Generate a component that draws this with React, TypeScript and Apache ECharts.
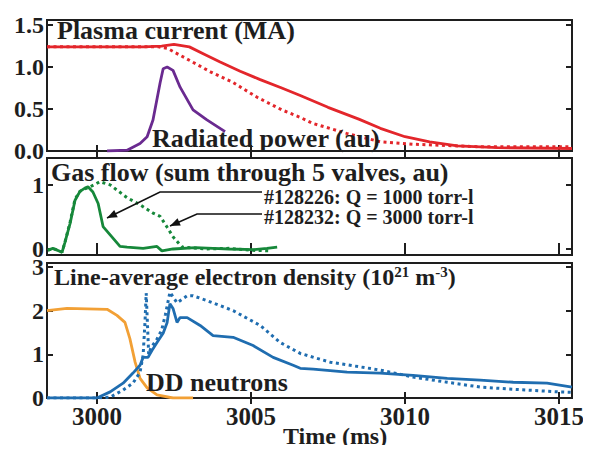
import React, { useEffect, useRef } from "react";
import * as echarts from "echarts";

// ---------- data (time in ms, values as plotted) ----------
const currentSolid: [number, number][] = [
  [2998.38, 1.24], [3001.5, 1.24], [3002.1, 1.25], [3002.5, 1.27], [3003.0, 1.24],
  [3003.5, 1.15], [3004.0, 1.06], [3004.65, 0.95], [3005.3, 0.85], [3006.0, 0.75],
  [3006.6, 0.66], [3007.5, 0.52], [3008.5, 0.38], [3009.2, 0.27], [3010.0, 0.17],
  [3010.8, 0.11], [3011.7, 0.06], [3013.0, 0.04], [3015.42, 0.03],
];
const currentDotted: [number, number][] = [
  [2998.38, 1.24], [3002.0, 1.24], [3002.3, 1.22], [3003.0, 1.08], [3003.7, 0.94],
  [3004.4, 0.82], [3005.2, 0.64], [3006.0, 0.49], [3006.6, 0.4], [3007.0, 0.33],
  [3008.1, 0.21], [3009.2, 0.11], [3010.3, 0.08], [3012.4, 0.05], [3015.42, 0.05],
];
const radiatedPower: [number, number][] = [
  [3000.33, 0.0], [3000.98, 0.01], [3001.4, 0.09], [3001.63, 0.17], [3001.82, 0.37],
  [3002.05, 0.81], [3002.15, 0.98], [3002.28, 1.0], [3002.47, 0.96], [3002.7, 0.76],
  [3003.12, 0.49], [3003.57, 0.37], [3004.16, 0.23],
];
const gasSolid: [number, number][] = [
  [2998.41, -0.02], [2998.57, 0.01], [2998.87, -0.05], [2998.96, 0.1], [2999.13, 0.4],
  [2999.29, 0.76], [2999.45, 0.9], [2999.61, 0.95], [2999.71, 0.97], [2999.87, 0.89],
  [3000.04, 0.71], [3000.2, 0.35], [3000.43, 0.22], [3000.75, 0.04], [3000.98, 0.03],
  [3001.5, 0.01], [3001.95, 0.04], [3002.11, -0.03], [3002.47, 0.0], [3003.2, 0.02],
  [3003.77, 0.01], [3004.3, 0.0], [3005.07, -0.01], [3005.52, 0.01], [3005.85, 0.03],
];
const gasDotted: [number, number][] = [
  [2998.41, -0.02], [2998.57, 0.01], [2998.87, -0.05], [2998.96, 0.1], [2999.13, 0.42],
  [2999.29, 0.78], [2999.45, 0.9], [2999.61, 0.94], [2999.78, 0.97], [3000.1, 1.05],
  [3000.43, 1.0], [3000.98, 0.8], [3001.4, 0.69], [3001.82, 0.56], [3002.05, 0.51],
  [3002.28, 0.34], [3002.47, 0.19], [3002.76, 0.03], [3003.5, 0.0], [3004.3, 0.01],
  [3005.0, -0.02], [3005.62, -0.03],
];
const neutrons: [number, number][] = [
  [2998.38, 2.0], [2999.03, 2.05], [3000.33, 2.03], [3000.65, 1.89], [3000.91, 1.73],
  [3001.07, 1.36], [3001.24, 0.82], [3001.4, 0.45], [3001.63, 0.23], [3001.95, 0.07],
  [3002.47, 0.0], [3003.12, 0.0],
];
const densitySolid: [number, number][] = [
  [2998.38, 0.0], [3000.0, 0.0], [3000.43, 0.14], [3000.85, 0.34], [3001.17, 0.57],
  [3001.4, 0.75], [3001.5, 0.93], [3001.66, 0.93], [3001.79, 1.09], [3001.95, 1.27],
  [3002.15, 1.48], [3002.28, 1.73], [3002.37, 2.16], [3002.47, 2.05], [3002.6, 1.73],
  [3002.7, 1.84], [3002.93, 1.84], [3003.35, 1.66], [3003.77, 1.43], [3004.42, 1.39],
  [3005.07, 1.2], [3005.72, 0.93], [3006.37, 0.75], [3006.6, 0.68], [3007.02, 0.66],
  [3008.12, 0.59], [3009.19, 0.57], [3010.26, 0.52], [3011.37, 0.45], [3012.44, 0.41],
  [3013.51, 0.36], [3014.61, 0.34], [3015.42, 0.25],
];
const densityDotted: [number, number][] = [
  [2998.38, 0.0], [3000.0, 0.0], [3000.43, 0.02], [3000.85, 0.18], [3001.17, 0.34],
  [3001.4, 0.59], [3001.5, 0.98], [3001.56, 1.73], [3001.6, 2.4], [3001.64, 1.7],
  [3001.68, 1.0], [3001.75, 1.14], [3001.95, 1.35], [3002.1, 1.55], [3002.22, 1.9],
  [3002.37, 2.42], [3002.6, 2.18], [3002.93, 2.34], [3003.12, 2.34], [3003.57, 2.23],
  [3004.42, 2.0], [3005.3, 1.66], [3005.95, 1.27], [3006.6, 1.02], [3007.57, 0.82],
  [3009.19, 0.64], [3010.26, 0.48], [3011.37, 0.36], [3012.44, 0.25], [3013.51, 0.2],
  [3014.97, 0.14], [3015.42, 0.13],
];

const xTicks = [3000, 3005, 3010, 3015];
const yTicksTop = [0, 0.5, 1.0, 1.5];
const yTicksMid = [0, 1];
const yTicksBot = [0, 1, 2, 3];

const X_MIN = 2998.38;
const X_MAX = 3015.42;

const FONT = "'Liberation Serif', 'DejaVu Serif', serif";
const RED = "#e3262b";
const PURPLE = "#6a2a90";
const GREEN = "#16883a";
const ORANGE = "#f2a035";
const BLUE = "#1f6db0";
const INK = "#1e1e1e";

function arrowHead(fx: number, fy: number, tx: number, ty: number, len = 10, half = 4): number[][] {
  const dx = tx - fx;
  const dy = ty - fy;
  const d = Math.sqrt(dx * dx + dy * dy);
  const ux = dx / d;
  const uy = dy / d;
  const bx = tx - ux * len;
  const by = ty - uy * len;
  return [
    [tx, ty],
    [bx - uy * half, by + ux * half],
    [bx + uy * half, by - ux * half],
  ];
}

export default function App() {
  const ref = useRef<HTMLDivElement>(null);

  useEffect(() => {
    if (!ref.current) return;
    const chart = echarts.init(ref.current, null, { renderer: "svg" });

    const grids = [
      { left: 47, right: 19, top: 20, height: 131 },
      { left: 47, right: 19, top: 158, height: 97 },
      { left: 47, right: 19, top: 263, height: 135 },
    ];
    const yRanges = [
      { min: 0, max: 1.56, ticks: yTicksTop, fmt: (v: number) => v.toFixed(1) },
      { min: -0.094, max: 1.42, ticks: yTicksMid, fmt: (v: number) => String(v) },
      { min: 0, max: 3.09, ticks: yTicksBot, fmt: (v: number) => String(v) },
    ];

    const tickStyle = { show: true, inside: true, length: 6, lineStyle: { color: INK, width: 2 } };
    const labelFont = { fontFamily: FONT, fontWeight: "bold" as const, fontSize: 25, color: INK };

    const xAxis: any[] = [];
    const yAxis: any[] = [];
    grids.forEach((_, i) => {
      xAxis.push({
        type: "value", gridIndex: i, min: X_MIN, max: X_MAX, position: "bottom",
        axisLine: { show: false }, splitLine: { show: false },
        axisTick: { ...tickStyle, customValues: xTicks },
        axisLabel: i === 2
          ? { show: true, customValues: xTicks, margin: 9, lineHeight: 18, formatter: (v: number) => String(Math.round(v)), ...labelFont }
          : { show: false },
      });
      xAxis.push({
        type: "value", gridIndex: i, min: X_MIN, max: X_MAX, position: "top",
        axisLine: { show: false }, splitLine: { show: false },
        axisTick: { ...tickStyle, customValues: xTicks },
        axisLabel: { show: false },
      });
      const r = yRanges[i];
      yAxis.push({
        type: "value", gridIndex: i, min: r.min, max: r.max, position: "left",
        axisLine: { show: false }, splitLine: { show: false },
        axisTick: { ...tickStyle, customValues: r.ticks },
        axisLabel: { show: true, customValues: r.ticks, margin: 3, formatter: r.fmt, ...labelFont, fontSize: 24, lineHeight: 16 },
      });
      yAxis.push({
        type: "value", gridIndex: i, min: r.min, max: r.max, position: "right",
        axisLine: { show: false }, splitLine: { show: false },
        axisTick: { ...tickStyle, customValues: r.ticks },
        axisLabel: { show: false },
      });
    });

    const line = (data: [number, number][], grid: number, color: string, dotted: boolean, z = 2) => ({
      type: "line",
      xAxisIndex: grid * 2,
      yAxisIndex: grid * 2,
      data,
      showSymbol: false,
      symbol: "none",
      z,
      clip: true,
      lineStyle: dotted
        ? { color, width: 3, type: [3, 3.5], cap: "butt" }
        : { color, width: 2.8 },
    });

    const textStyle = (size: number) => ({
      fontFamily: FONT,
      fontWeight: "bold",
      fontSize: size,
      fill: INK,
    });

    const a1 = arrowHead(160, 192, 107, 218);
    const a2 = arrowHead(197, 214, 170, 226);

    chart.setOption({
      animation: false,
      grid: grids.map((g) => ({
        ...g, show: true, borderColor: INK, borderWidth: 2, backgroundColor: "transparent", containLabel: false,
      })),
      xAxis,
      yAxis,
      series: [
        line(currentSolid, 0, RED, false),
        line(currentDotted, 0, RED, true),
        line(radiatedPower, 0, PURPLE, false),
        line(gasDotted, 1, GREEN, true),
        line(gasSolid, 1, GREEN, false),
        line(neutrons, 2, ORANGE, false),
        line(densityDotted, 2, BLUE, true),
        line(densitySolid, 2, BLUE, false),
      ],
      graphic: [
        { type: "text", left: 57, top: 17, z: 10, style: { text: "Plasma current (MA)", ...textStyle(26) } },
        { type: "text", left: 152, top: 125, z: 10, style: { text: "Radiated power (au)", ...textStyle(26) } },
        { type: "text", left: 51, top: 159, z: 10, style: { text: "Gas flow (sum through 5 valves, au)", ...textStyle(26) } },
        { type: "text", left: 264, top: 187, z: 10, style: { text: "#128226: Q = 1000 torr-l", ...textStyle(20) } },
        { type: "text", left: 264, top: 207, z: 10, style: { text: "#128232: Q = 3000 torr-l", ...textStyle(20) } },
        {
          type: "text", left: 54, top: 264, z: 10,
          style: {
            text: "{m|Line-average electron density (10}{s|21}{m| m}{s|-3}{m|)}",
            ...textStyle(24),
            rich: {
              m: { fontFamily: FONT, fontWeight: "bold", fontSize: 24, fill: INK, verticalAlign: "bottom" },
              s: { fontFamily: FONT, fontWeight: "bold", fontSize: 15, fill: INK, verticalAlign: "top", padding: [0, 0, 10, 0] },
            },
          },
        },
        { type: "text", left: 146, top: 369, z: 10, style: { text: "DD neutrons", ...textStyle(26) } },
        { type: "text", left: 283, top: 424, z: 10, style: { text: "Time (ms)", ...textStyle(24), lineHeight: 24 } },
        {
          type: "polyline", z: 10,
          shape: { points: [[262, 192], [160, 192], [a1[0][0], a1[0][1]]] },
          style: { stroke: "#111", lineWidth: 1.6, fill: "none" },
        },
        { type: "polygon", z: 10, shape: { points: a1 }, style: { fill: "#111" } },
        {
          type: "polyline", z: 10,
          shape: { points: [[262, 214], [197, 214], [a2[0][0], a2[0][1]]] },
          style: { stroke: "#111", lineWidth: 1.6, fill: "none" },
        },
        { type: "polygon", z: 10, shape: { points: a2 }, style: { fill: "#111" } },
      ],
    });

    return () => chart.dispose();
  }, []);

  return <div ref={ref} style={{ width: 591, height: 453, margin: -8 }} />;
}
